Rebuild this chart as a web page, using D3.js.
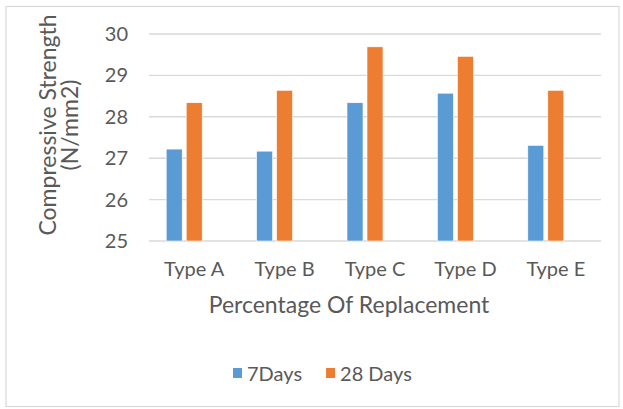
<!DOCTYPE html>
<meta charset="utf-8">
<script src="https://d3js.org/d3.v7.min.js"></script>
<style>
  body { margin: 0; background: #fff; }
  text { font-family: Lato, "Open Sans", sans-serif; fill: #595959; }
</style>
<div id="my_dataviz"></div>
<script>
  // data
  var categories = ["Type A", "Type B", "Type C", "Type D", "Type E"];
  var seriesNames = ["7Days", "28 Days"];
  var days7 = [27.22, 27.17, 28.34, 28.57, 27.31];
  var days28 = [28.34, 28.64, 29.69, 29.46, 28.64];
  var yTicks = [25, 26, 27, 28, 29, 30];
  var colors = ["#5B9BD5", "#ED7D31"];

  var W = 623, H = 409;
  var margin = {top: 34, right: 22, bottom: 168, left: 149},
      width = W - margin.left - margin.right,
      height = H - margin.top - margin.bottom;

  var svg = d3.select("#my_dataviz")
    .append("svg")
      .attr("width", W)
      .attr("height", H);

  // chart area border
  svg.append("rect")
    .attr("x", 6).attr("y", 6.5)
    .attr("width", 613).attr("height", 400)
    .attr("fill", "none")
    .attr("stroke", "#d9d9d9")
    .attr("stroke-width", 1.2);

  var g = svg.append("g")
    .attr("transform", "translate(" + margin.left + "," + margin.top + ")");

  var x0 = d3.scaleBand()
    .domain(categories)
    .range([0, width]);

  // Excel leaves a slot for a third (empty) series, so groups sit left of centre
  var x1 = d3.scaleBand()
    .domain([0, 1, 2])
    .range([17.2, x0.bandwidth() - 17.2])
    .paddingInner(0.2);

  var y = d3.scaleLinear()
    .domain([25, 30])
    .range([height, 0]);

  // gridlines
  g.append("g")
    .selectAll("line")
    .data(yTicks)
    .enter().append("line")
      .attr("x1", 0).attr("x2", width)
      .attr("y1", function(d) { return y(d); })
      .attr("y2", function(d) { return y(d); })
      .attr("stroke", "#d9d9d9")
      .attr("stroke-width", 1.4);

  // y tick labels
  var yAxis = g.append("g")
    .call(d3.axisLeft(y).tickValues(yTicks).tickFormat(d3.format("d")).tickSize(0).tickPadding(21));
  yAxis.select(".domain").remove();
  yAxis.selectAll("text")
    .style("font-size", "20px")
    .attr("fill", "#595959");

  // x tick labels
  var xAxis = g.append("g")
    .attr("transform", "translate(0," + height + ")")
    .call(d3.axisBottom(x0).tickSize(0).tickPadding(21));
  xAxis.select(".domain").remove();
  xAxis.selectAll("text")
    .style("font-size", "20px")
    .attr("fill", "#595959");

  // bars
  var series = [days7, days28];
  series.forEach(function(vals, s) {
    g.append("g")
      .selectAll("rect")
      .data(vals)
      .enter().append("rect")
        .attr("x", function(d, i) { return x0(categories[i]) + x1(s); })
        .attr("width", x1.bandwidth())
        .attr("y", function(d) { return y(d); })
        .attr("height", function(d) { return height - y(d); })
        .attr("fill", colors[s])
        .attr("stroke", "#fff")
        .attr("stroke-width", 0.6);
  });

  // axis titles
  svg.append("text")
    .attr("x", 349)
    .attr("y", 313)
    .attr("text-anchor", "middle")
    .style("font-size", "23px")
    .text("Percentage Of Replacement");

  var yt = svg.append("text")
    .attr("transform", "translate(56,125) rotate(-90)")
    .attr("text-anchor", "middle")
    .style("font-size", "23px");
  yt.append("tspan").attr("x", 0).attr("y", 0).text("Compressive Strength");
  yt.append("tspan").attr("x", 0).attr("y", 22).text("(N/mm2)");

  // legend
  var lx = 233;
  seriesNames.forEach(function(name, s) {
    svg.append("rect")
      .attr("x", lx).attr("y", 368)
      .attr("width", 9).attr("height", 10)
      .attr("fill", colors[s]);
    var t = svg.append("text")
      .attr("x", lx + 14)
      .attr("y", 381)
      .style("font-size", "20px")
      .text(name);
    lx += 14 + t.node().getComputedTextLength() + 24;
  });
</script>
